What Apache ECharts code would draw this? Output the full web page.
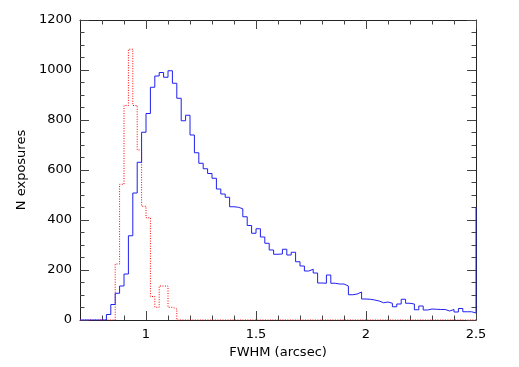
<!DOCTYPE html>
<html>
<head>
<meta charset="utf-8">
<style>
  html, body { margin: 0; padding: 0; background: #fff; }
  #chart { width: 519px; height: 367px; }
</style>
<script src="https://cdn.jsdelivr.net/npm/echarts@6/dist/echarts.min.js"></script>
</head>
<body>
<div id="chart"></div>
<script>
// bin layout of both histograms (left edges, 0.02 wide, first bin at 0.70)
const binStart = 0.70
const binWidth = 0.02

// all exposures (blue), one value per bin from 0.70 up to 2.48
const allCounts = [
  0, 0, 0, 0, 0, 0, 22, 62, 107, 136,
  184, 337, 508, 631, 751, 826, 931, 976, 990, 971,
  997, 947, 887, 797, 819, 740, 669, 627, 605, 586,
  567, 524, 504, 491, 453, 451, 445, 413, 378, 347,
  365, 332, 307, 280, 263, 264, 283, 260, 271, 233,
  216, 196, 203, 188, 148, 147, 180, 147, 144, 144,
  136, 101, 104, 112, 84, 83, 80, 76, 69, 72,
  67, 53, 64, 83, 67, 64, 41, 56, 40, 44,
  43, 42, 42, 36, 42, 32, 46, 33, 33, 28,
]
// the blue line climbs again at the right edge (overflow bin)
const allOverflow = 452

// selected subset (red dotted), same bins
const subsetCounts = [
  0, 0, 0, 0, 0, 0, 0, 0, 224, 543,
  858, 1083, 858, 680, 455, 409, 94, 51, 136, 136,
  51, 44, 0, 0, 0, 0, 0, 0, 0, 0,
  0, 0, 0, 0, 0, 0, 0, 0, 0, 0,
  0, 0, 0, 0, 0, 0, 0, 0, 0, 0,
  0, 0, 0, 0, 0, 0, 0, 0, 0, 0,
  0, 0, 0, 0, 0, 0, 0, 0, 0, 0,
  0, 0, 0, 0, 0, 0, 0, 0, 0, 0,
  0, 0, 0, 0, 0, 0, 0, 0, 0, 0,
]
const subsetOverflow = 0

// ticks
const xLabels = [1, 1.5, 2, 2.5]
const xMinor = [0.8, 0.9, 1.1, 1.2, 1.3, 1.4, 1.6, 1.7, 1.8, 1.9, 2.1, 2.2, 2.3, 2.4]
const xMin = 0.7
const xMax = 2.5
const yMin = 0
const yMax = 1200
const yStep = 200

// turn bin counts into [edge, count] points for a step line
const toSteps = (counts, overflow) => {
  const pts = counts.map((c, i) => [+(binStart + i * binWidth).toFixed(2), c])
  pts.push([+(binStart + counts.length * binWidth).toFixed(2), overflow])
  return pts
}

const frameColor = "#222"
const tickColor = "#444"
const font = "DejaVu Sans"

// x axis builder: major ticks with labels, or minor ticks only
const makeX = (position, values, len, withLabels, withLine) => ({
  type: "value",
  position,
  min: xMin,
  max: xMax,
  splitLine: { show: false },
  axisLine: { show: withLine, onZero: false, lineStyle: { color: frameColor, width: 1 } },
  axisTick: {
    show: true,
    inside: true,
    length: len,
    customValues: values,
    lineStyle: { color: tickColor, width: 1 },
  },
  axisLabel: {
    show: withLabels,
    customValues: values,
    margin: 8,
    color: "#000",
    fontFamily: font,
    fontSize: 13,
    formatter: (v) => String(v),
  },
})

const makeY = (position, withLabels) => ({
  type: "value",
  position,
  min: yMin,
  max: yMax,
  interval: yStep,
  splitLine: { show: false },
  axisLine: { show: true, onZero: false, lineStyle: { color: frameColor, width: 1 } },
  axisTick: { show: true, inside: true, length: 9, lineStyle: { color: tickColor, width: 1 } },
  minorTick: { show: true, splitNumber: 4, length: 4.5, lineStyle: { color: tickColor, width: 1 } },
  axisLabel: {
    show: withLabels,
    margin: 8,
    color: "#000",
    fontFamily: font,
    fontSize: 13,
    formatter: (v) => String(v),
  },
})

const xBottom = makeX("bottom", xLabels, 9, true, true)
xBottom.name = "FWHM (arcsec)"
xBottom.nameLocation = "middle"
xBottom.nameGap = 25
xBottom.nameTextStyle = { color: "#000", fontFamily: font, fontSize: 13 }

const yLeft = makeY("left", true)
yLeft.name = "N exposures"
yLeft.nameLocation = "middle"
yLeft.nameGap = 50
yLeft.nameTextStyle = { color: "#000", fontFamily: font, fontSize: 13 }

const option = {
  animation: false,
  backgroundColor: "#fff",
  grid: { left: 80, right: 43, top: 20, bottom: 47 },
  xAxis: [
    xBottom,
    makeX("bottom", xMinor, 4.5, false, false),
    makeX("top", xLabels, 9, false, true),
    makeX("top", xMinor, 4.5, false, false),
  ],
  yAxis: [yLeft, makeY("right", false)],
  series: [
    {
      type: "line",
      step: "end",
      symbol: "none",
      clip: true,
      data: toSteps(subsetCounts, subsetOverflow),
      lineStyle: { color: "#ff0000", width: 1, type: [1, 1.5] },
      z: 2,
    },
    {
      type: "line",
      step: "end",
      symbol: "none",
      clip: true,
      data: toSteps(allCounts, allOverflow),
      lineStyle: { color: "#2020f0", width: 1 },
      z: 3,
    },
  ],
}

const myChart = echarts.init(document.getElementById("chart"), null, { renderer: "canvas" })
myChart.setOption(option)
</script>
</body>
</html>
